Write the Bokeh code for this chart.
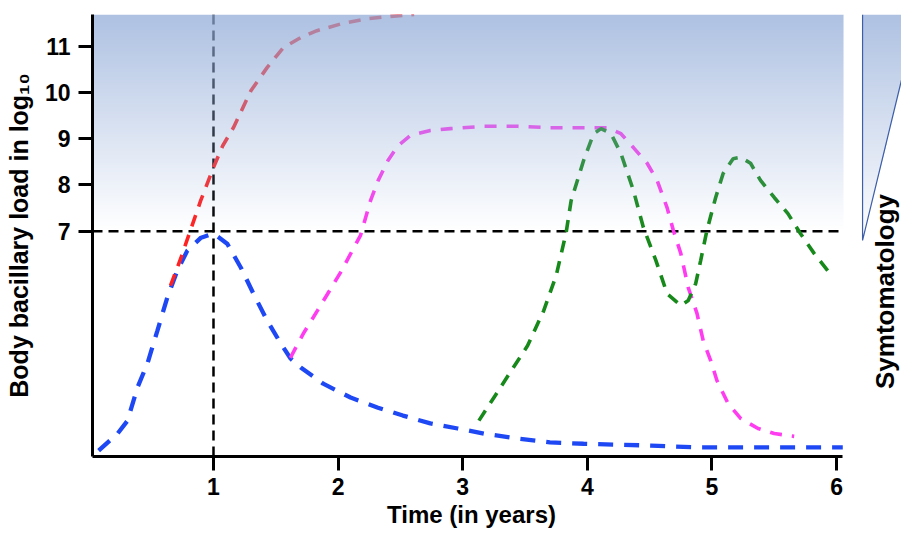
import math
import numpy as np
from bokeh.plotting import figure
from bokeh.layouts import row
from bokeh.models import Range1d, FixedTicker, Label
from bokeh.embed import file_html
from bokeh.resources import INLINE

# ---------------- data ----------------
x_ticks = [1, 2, 3, 4, 5, 6]
y_ticks = [7, 8, 9, 10, 11]
peak_year = 1
symptom_threshold = 7

blue_x = [0.078, 0.23, 0.31, 0.39, 0.47, 0.55, 0.63, 0.71, 0.79, 0.90, 1.00, 1.11, 1.22,
          1.32, 1.43, 1.54, 1.62, 1.70, 1.88, 2.10, 2.32, 2.52, 2.74, 2.96, 3.17, 3.44,
          3.70, 3.97, 4.51, 4.91, 6.05]
blue_y = [2.25, 2.62, 2.90, 3.62, 4.14, 4.85, 5.57, 6.15, 6.58, 6.86, 6.95, 6.73, 6.21,
          5.65, 5.07, 4.57, 4.24, 4.05, 3.70, 3.40, 3.18, 3.01, 2.84, 2.73, 2.62, 2.51,
          2.43, 2.40, 2.36, 2.32, 2.32]

red_x = [0.655, 0.737, 0.815, 0.897, 1.00, 1.074, 1.16, 1.30, 1.43, 1.56, 1.70, 1.83,
         2.04, 2.24, 2.42, 2.61]
red_y = [5.82, 6.41, 7.02, 7.66, 8.38, 8.85, 9.24, 10.04, 10.54, 10.97, 11.19, 11.34,
         11.50, 11.60, 11.65, 11.69]

magenta_x = [1.617, 1.72, 1.834, 2.02, 2.18, 2.26, 2.32, 2.40, 2.48, 2.58, 2.74, 2.90,
             3.17, 3.44, 3.70, 3.97, 4.16, 4.27, 4.37, 4.48, 4.56, 4.64, 4.69, 4.75,
             4.81, 4.88, 4.93, 4.99, 5.04, 5.13, 5.23, 5.37, 5.50, 5.66]
magenta_y = [4.26, 4.78, 5.28, 6.11, 6.91, 7.66, 8.09, 8.53, 8.85, 9.07, 9.18, 9.22,
             9.27, 9.27, 9.24, 9.24, 9.24, 9.11, 8.81, 8.47, 8.10, 7.51, 7.02, 6.52,
             5.78, 5.22, 4.63, 4.20, 3.77, 3.27, 2.95, 2.73, 2.62, 2.56]

green_x = [3.13, 3.26, 3.38, 3.52, 3.65, 3.75, 3.83, 3.87, 3.97, 4.05, 4.11, 4.19, 4.27,
           4.37, 4.45, 4.55, 4.64, 4.75, 4.81, 4.87, 4.91, 4.96, 5.03, 5.09, 5.17, 5.23,
           5.31, 5.39, 5.50, 5.61, 5.71, 5.82, 5.94]
green_y = [2.90, 3.44, 3.94, 4.52, 5.28, 6.04, 6.97, 7.66, 8.53, 9.11, 9.22, 9.11, 8.68,
           7.88, 7.08, 6.37, 5.65, 5.39, 5.50, 5.87, 6.37, 7.02, 7.73, 8.25, 8.57, 8.60,
           8.47, 8.10, 7.73, 7.38, 6.95, 6.52, 6.11]

# ---------------- layout / style ----------------
X_START, X_SPLIT, X_END = 0.029, 6.112, 6.522
Y_START, Y_END = 2.124, 11.69
AXIS_X_END = 6.05
SHADE_X_END = 6.056
FONT = "Liberation Sans"
MAIN_W, SIDE_W, H = 850, 51, 536

p = figure(width=MAIN_W, height=H,
           x_range=Range1d(X_START, X_SPLIT), y_range=Range1d(Y_START, Y_END),
           output_backend="svg", toolbar_location=None,
           min_border_left=92, min_border_right=0, min_border_top=14, min_border_bottom=80)
p.grid.visible = False
p.outline_line_color = None
p.background_fill_color = "white"
p.border_fill_color = "white"

for ax in (p.xaxis[0], p.yaxis[0]):
    ax.axis_line_width = 3
    ax.axis_line_color = "black"
    ax.major_tick_line_width = 3
    ax.major_tick_line_color = "black"
    ax.major_tick_in = 0
    ax.major_tick_out = 14
    ax.minor_tick_line_color = None
    ax.major_label_text_font = FONT
    ax.major_label_text_font_style = "bold"
    ax.major_label_text_font_size = "23px"
    ax.major_label_text_color = "black"
    ax.axis_label_text_font = FONT
    ax.axis_label_text_font_style = "bold"
    ax.axis_label_text_color = "black"

p.xaxis.ticker = FixedTicker(ticks=x_ticks)
p.xaxis.bounds = (X_START, AXIS_X_END)
p.xaxis.major_label_standoff = 7
p.xaxis.axis_label = "Time (in years)"
p.xaxis.axis_label_text_font_size = "24px"
p.xaxis.axis_label_standoff = 3

p.yaxis.ticker = FixedTicker(ticks=y_ticks)
p.yaxis.major_label_standoff = 8
p.yaxis.axis_label = "Body bacillary load in log\u2081\u2080"
p.yaxis.axis_label_text_font_size = "25px"
p.yaxis.axis_label_standoff = 9

# reference lines
p.line([peak_year, peak_year], [Y_START, Y_END], line_color="black", line_width=2.5,
       line_dash="10 6")
p.line([X_START, AXIS_X_END], [symptom_threshold, symptom_threshold], line_color="black",
       line_width=2.5, line_dash="10 6")

# curves
p.line(blue_x, blue_y, line_color="#1f48f5", line_width=4.3, line_dash="15 11")
p.line(red_x, red_y, line_color="#ff2222", line_width=3.6, line_dash="12 9")
p.line(magenta_x, magenta_y, line_color="#ff3df0", line_width=3.6, line_dash="12 10")
p.line(green_x, green_y, line_color="#17891a", line_width=3.6, line_dash="12 9")

# translucent blue overlay (symptomatic zone) fading to transparent at the threshold
SHADE_RGB = (146, 172, 216)
A_TOP = 0.75
ROWS = 220
shade = np.zeros((ROWS, 1), dtype=np.uint32)
sv = shade.view(dtype=np.uint8).reshape((ROWS, 1, 4))
sv[:, 0, 0], sv[:, 0, 1], sv[:, 0, 2] = SHADE_RGB
sv[:, 0, 3] = np.round(255 * A_TOP * (np.arange(ROWS) + 0.5) / ROWS).astype(np.uint8)
p.image_rgba(image=[shade], x=X_START, y=symptom_threshold, dw=SHADE_X_END - X_START,
             dh=Y_END - symptom_threshold)

# ---------------- side panel: symptomatology wedge ----------------
s = figure(width=SIDE_W, height=H,
           x_range=Range1d(X_SPLIT, X_END), y_range=Range1d(Y_START, Y_END),
           output_backend="svg", toolbar_location=None,
           x_axis_location=None, y_axis_location=None,
           min_border_left=0, min_border_right=0, min_border_top=14, min_border_bottom=80)
s.grid.visible = False
s.outline_line_color = None
s.background_fill_color = "white"
s.border_fill_color = "white"

TRI_LEFT, TRI_RIGHT_TOP, TRI_BOTTOM = 6.209, 6.65, 6.80
TR, TC = 226, 56
cx = TRI_LEFT + (np.arange(TC) + 0.5) / TC * (TRI_RIGHT_TOP - TRI_LEFT)
cy = TRI_BOTTOM + (np.arange(TR) + 0.5) / TR * (Y_END - TRI_BOTTOM)
gx, gy = np.meshgrid(cx, cy)
frac = (gy - TRI_BOTTOM) / (Y_END - TRI_BOTTOM)
inside = gx <= TRI_LEFT + (TRI_RIGHT_TOP - TRI_LEFT) * frac
tri = np.zeros((TR, TC), dtype=np.uint32)
tv = tri.view(dtype=np.uint8).reshape((TR, TC, 4))
tv[:, :, 0], tv[:, :, 1], tv[:, :, 2] = SHADE_RGB
tv[:, :, 3] = np.where(inside, np.round(255 * A_TOP * frac), 0).astype(np.uint8)
s.image_rgba(image=[tri], x=TRI_LEFT, y=TRI_BOTTOM, dw=TRI_RIGHT_TOP - TRI_LEFT,
             dh=Y_END - TRI_BOTTOM)
s.line([TRI_RIGHT_TOP, TRI_LEFT, TRI_LEFT], [Y_END, TRI_BOTTOM, Y_END],
       line_color="#3d5ea8", line_width=1.2)

s.add_layout(Label(x=6.393, y=5.695, text="Symtomatology", angle=math.pi / 2,
                   text_font=FONT, text_font_style="bold", text_font_size="26px",
                   text_align="center", text_baseline="middle", text_color="black"))

layout = row(p, s, spacing=0)
open("out.html", "w").write(file_html(layout, INLINE))
